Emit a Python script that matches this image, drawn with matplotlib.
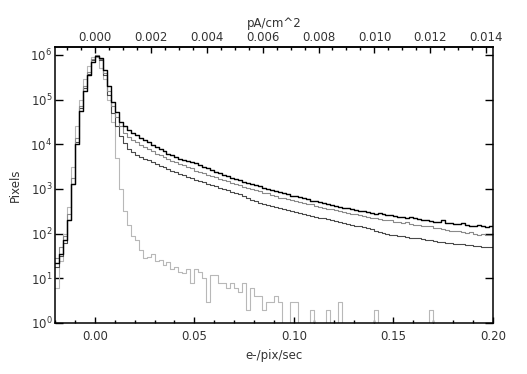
import numpy as np
import matplotlib.pyplot as plt
from matplotlib.ticker import FixedLocator, MultipleLocator, FixedFormatter, NullLocator

# dark current histograms, bin width 0.002 e-/pix/sec from -0.02 to 0.20
bin_edges = np.round(np.arange(-0.020, 0.2001, 0.002), 4)

# black (top tail)
counts_a = [22, 35, 71, 200, 1260, 10000, 56200, 158000, 355000, 708000,
            955000, 832000, 447000, 200000, 89100, 52500, 31600, 25100, 20900, 18200,
            15800, 13800, 12300, 11000, 9770, 8710, 7760, 6920, 6170, 5620,
            5130, 4790, 4470, 4170, 3980, 3720, 3390, 3160, 2880, 2630,
            2450, 2290, 2090, 1950, 1780, 1660, 1550, 1450, 1350, 1290,
            1230, 1170, 1070, 1000, 933, 891, 851, 794, 759, 708,
            692, 646, 617, 589, 550, 537, 501, 479, 457, 447,
            417, 398, 380, 372, 355, 339, 324, 316, 302, 288,
            282, 295, 275, 263, 257, 251, 240, 234, 229, 234,
            219, 209, 204, 200, 195, 186, 182, 200, 174, 170,
            166, 162, 174, 155, 151, 148, 158, 145, 141, 148]

# mid gray
counts_b = [28, 50, 89, 282, 1780, 14100, 70800, 200000, 417000, 794000,
            977000, 794000, 398000, 158000, 70800, 39800, 25100, 18200, 14800, 12600,
            11000, 9770, 8710, 7760, 6920, 6170, 5620, 5130, 4680, 4270,
            3980, 3630, 3390, 3160, 2880, 2510, 2400, 2240, 2090, 1950,
            1820, 1700, 1580, 1480, 1380, 1290, 1200, 1120, 1050, 1000,
            933, 905, 832, 794, 741, 708, 640, 631, 603, 562,
            537, 513, 490, 457, 455, 417, 398, 380, 363, 347,
            331, 316, 302, 288, 282, 281, 257, 245, 234, 224,
            219, 214, 204, 200, 205, 186, 182, 174, 178, 166,
            158, 155, 151, 145, 150, 135, 132, 129, 123, 112,
            117, 112, 110, 105, 108, 100, 95, 97, 91, 94]

# dark gray (lowest tail)
counts_c = [18, 32, 63, 200, 1260, 11200, 63100, 178000, 380000, 759000,
            955000, 759000, 355000, 126000, 50100, 25100, 15100, 10500, 7940, 6760,
            5890, 5250, 4790, 4370, 3980, 3630, 3310, 3020, 2750, 2570,
            2340, 2190, 2000, 1860, 1740, 1620, 1510, 1410, 1320, 1230,
            1150, 1070, 1000, 933, 871, 813, 759, 708, 631, 575,
            537, 490, 468, 437, 417, 398, 372, 355, 339, 324,
            309, 288, 275, 263, 251, 240, 229, 219, 209, 200,
            191, 182, 174, 166, 158, 151, 145, 138, 132, 126,
            115, 110, 105, 100, 95, 91, 89, 87, 83, 81,
            79, 78, 74, 72, 71, 68, 66, 65, 63, 62,
            60, 59, 58, 56, 55, 54, 52, 51, 50, 50]

# light gray (narrow peak, noisy tail)
counts_d = [6, 25, 100, 400, 3160, 25100, 100000, 282000, 562000, 891000,
            891000, 501000, 282000, 100000, 31600, 5010, 1000, 316, 158, 89,
            71, 42, 28, 30, 35, 25, 26, 20, 23, 16,
            18, 14, 13, 16, 8, 16, 14, 10, 3, 12,
            12, 8, 8, 6, 8, 6, 5, 8, 2, 6,
            4, 4, 2, 3, 3, 4, 3, 0, 0, 3,
            3, 0, 0, 0, 2, 0, 0, 0, 2, 0,
            0, 3, 0, 0, 0, 0, 0, 0, 0, 0,
            2, 0, 0, 0, 0, 0, 0, 0, 0, 0,
            0, 0, 0, 0, 2, 0, 0, 0, 0, 0,
            0, 0, 0, 0, 0, 0, 0, 0, 0, 0]

E_TO_PA = 0.0712  # e-/pix/sec -> pA/cm^2 for 15 um pixels

x_ticks = [0.00, 0.05, 0.10, 0.15, 0.20]
top_ticks = [0.000, 0.002, 0.004, 0.006, 0.008, 0.010, 0.012, 0.014]
y_ticks = [1, 10, 100, 1e3, 1e4, 1e5, 1e6]
y_labels = [r"$10^{0}$", r"$10^{1}$", r"$10^{2}$", r"$10^{3}$",
            r"$10^{4}$", r"$10^{5}$", r"$10^{6}$"]

txt = "#333333"
plt.rcParams["font.family"] = "DejaVu Sans"
plt.rcParams["mathtext.fontset"] = "dejavusans"

fig = plt.figure(figsize=(5.27, 3.74), dpi=100)
ax = fig.add_axes([55 / 527, 1 - 323 / 374, 438 / 527, 276 / 374])

series = [(counts_d, "#b8b8b8", 0.8),
          (counts_c, "#4a4a4a", 0.8),
          (counts_b, "#8a8a8a", 0.8),
          (counts_a, "#000000", 1.0)]
for vals, col, lw in series:
    v = np.asarray(vals, dtype=float)
    ax.plot(bin_edges, np.append(v, v[-1]), drawstyle="steps-post", color=col, lw=lw)

ax.set_yscale("log", nonpositive="clip")
ax.set_xlim(-0.02, 0.20)
ax.set_ylim(1, 1.5e6)

ax.xaxis.set_major_locator(FixedLocator(x_ticks))
ax.xaxis.set_minor_locator(MultipleLocator(0.01))
ax.set_xticklabels(["%.2f" % t for t in x_ticks])
ax.yaxis.set_major_locator(FixedLocator(y_ticks))
ax.yaxis.set_major_formatter(FixedFormatter(y_labels))
ax.yaxis.set_minor_locator(NullLocator())

ax.tick_params(axis="x", which="major", direction="in", length=4.5, width=1, top=False,
               labelsize=8.5, labelcolor=txt, pad=5)
ax.tick_params(axis="x", which="minor", direction="in", length=2.2, width=1, top=False)
ax.tick_params(axis="y", which="major", direction="in", length=6, width=1, right=True,
               labelsize=8.5, labelcolor=txt, pad=2)
for s in ax.spines.values():
    s.set_linewidth(1.1)

top = ax.secondary_xaxis("top", functions=(lambda x: x * E_TO_PA, lambda x: x / E_TO_PA))
top.xaxis.set_major_locator(FixedLocator(top_ticks))
top.xaxis.set_minor_locator(MultipleLocator(0.0005))
top.set_xticklabels(["%.3f" % t for t in top_ticks])
top.tick_params(axis="x", which="major", direction="in", length=4.5, width=1,
                labelsize=8.5, labelcolor=txt, pad=2.5)
top.tick_params(axis="x", which="minor", direction="in", length=2.2, width=1)
top.spines["top"].set_linewidth(1.1)
top.set_xlabel("pA/cm^2", fontsize=8.5, color=txt, labelpad=2.5)

ax.set_xlabel("e-/pix/sec", fontsize=8.5, color=txt, labelpad=4)
ax.set_ylabel("Pixels", fontsize=8.5, color=txt, labelpad=6)

fig.savefig("out.png", dpi=100)
